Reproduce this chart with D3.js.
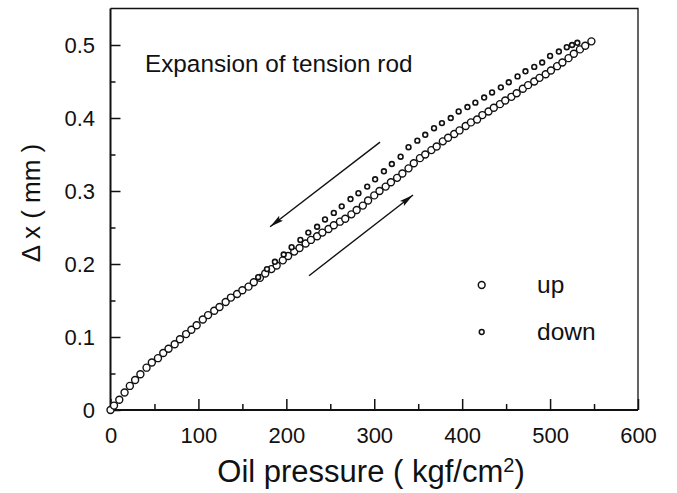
<!DOCTYPE html>
<html>
<head>
<meta charset="utf-8">
<script src="https://cdn.jsdelivr.net/npm/d3@7"></script>
<style>
  html, body { margin: 0; padding: 0; background: #fff; }
  svg { display: block; }
  text { font-family: "Liberation Sans", Arial, Helvetica, sans-serif; fill: #111; }
</style>
</head>
<body>
<svg id="chart" width="677" height="493"></svg>
<script>
// ---- data ----
const upX = [0, 4, 10, 16, 22, 28, 34, 41, 47, 54, 60, 66, 73, 79, 86, 92, 98, 105, 111, 118, 124, 131, 137, 144, 150, 157, 163, 170, 176, 183, 189, 196, 202, 209, 215, 222, 228, 235, 241, 248, 254, 261, 267, 274, 280, 287, 293, 300, 306, 313, 319, 326, 332, 339, 345, 352, 358, 365, 371, 378, 384, 391, 397, 404, 410, 417, 423, 430, 436, 443, 449, 456, 462, 469, 475, 482, 488, 495, 501, 508, 514, 521, 527, 534, 540, 547];
const upY = [0.000, 0.006, 0.014, 0.024, 0.033, 0.041, 0.049, 0.058, 0.065, 0.071, 0.078, 0.084, 0.090, 0.097, 0.104, 0.110, 0.116, 0.124, 0.130, 0.136, 0.141, 0.148, 0.154, 0.159, 0.164, 0.169, 0.175, 0.181, 0.187, 0.193, 0.198, 0.205, 0.211, 0.217, 0.222, 0.228, 0.233, 0.238, 0.243, 0.248, 0.253, 0.258, 0.262, 0.268, 0.274, 0.280, 0.287, 0.294, 0.300, 0.306, 0.312, 0.318, 0.324, 0.331, 0.338, 0.345, 0.350, 0.356, 0.361, 0.368, 0.373, 0.378, 0.383, 0.389, 0.394, 0.398, 0.404, 0.409, 0.414, 0.419, 0.424, 0.429, 0.434, 0.440, 0.445, 0.450, 0.455, 0.460, 0.465, 0.471, 0.476, 0.482, 0.488, 0.494, 0.499, 0.505];
const downX = [531, 525, 519, 510, 500, 491, 482, 472, 463, 453, 444, 434, 425, 415, 406, 396, 387, 377, 368, 358, 349, 339, 330, 320, 311, 301, 292, 282, 273, 263, 254, 244, 235, 225, 216, 206, 197, 187, 178, 168];
const downY = [0.503, 0.500, 0.497, 0.491, 0.485, 0.476, 0.470, 0.464, 0.457, 0.449, 0.442, 0.435, 0.428, 0.421, 0.415, 0.409, 0.400, 0.393, 0.386, 0.377, 0.369, 0.360, 0.347, 0.337, 0.327, 0.316, 0.306, 0.297, 0.289, 0.279, 0.270, 0.261, 0.251, 0.243, 0.233, 0.223, 0.213, 0.203, 0.193, 0.182];
const xTicks = [0, 100, 200, 300, 400, 500, 600];
const xMinor = [50, 150, 250, 350, 450, 550];
const yTicks = [0, 0.1, 0.2, 0.3, 0.4, 0.5];
const yMinor = [0.05, 0.15, 0.25, 0.35, 0.45];
const yTickLabels = ["0", "0.1", "0.2", "0.3", "0.4", "0.5"];
const seriesNames = ["up", "down"];
const annotation = "Expansion of tension rod";
const arrowDown = [[306.6, 0.367], [181.5, 0.251]];
const arrowUp = [[225.8, 0.184], [344.1, 0.2945]];

// ---- layout ----
const svg = d3.select("#chart");
const x = d3.scaleLinear().domain([0, 600]).range([110.5, 638]);
const y = d3.scaleLinear().domain([0, 0.55]).range([410, 8.5]);

svg.append("defs").append("marker")
  .attr("id", "head").attr("viewBox", "0 -4 14 8")
  .attr("refX", 14).attr("refY", 0)
  .attr("markerWidth", 14).attr("markerHeight", 8)
  .attr("markerUnits", "userSpaceOnUse")
  .attr("orient", "auto")
  .append("path").attr("d", "M0,-3.2L14,0L0,3.2L2.5,0Z").attr("fill", "#111");

// frame: top/right thinner, left/bottom heavier
const fx0 = x(0), fx1 = x(600), fy0 = y(0), fy1 = y(0.55);
svg.append("path").attr("d", `M${fx0},${fy1}H${fx1}V${fy0}`)
  .attr("fill", "none").attr("stroke", "#111").attr("stroke-width", 1.3);
svg.append("path").attr("d", `M${fx0},${fy1}V${fy0}H${fx1}`)
  .attr("fill", "none").attr("stroke", "#111").attr("stroke-width", 2);

// axes
const fs = "22px";
const gx = svg.append("g").attr("transform", `translate(0,${y(0)})`)
  .call(d3.axisBottom(x).tickValues(xTicks).tickSizeInner(-11).tickSizeOuter(0).tickPadding(17).tickFormat(d3.format("d")));
const gxm = svg.append("g").attr("transform", `translate(0,${y(0)})`)
  .call(d3.axisBottom(x).tickValues(xMinor).tickSizeInner(-6).tickSizeOuter(0).tickFormat(""));
const gy = svg.append("g").attr("transform", `translate(${x(0)},0)`)
  .call(d3.axisLeft(y).tickValues(yTicks).tickSizeInner(-10).tickSizeOuter(0).tickPadding(15.5)
    .tickFormat((d, i) => yTickLabels[i]));
const gym = svg.append("g").attr("transform", `translate(${x(0)},0)`)
  .call(d3.axisLeft(y).tickValues(yMinor).tickSizeInner(-5).tickSizeOuter(0).tickFormat(""));
[gx, gxm, gy, gym].forEach(g => {
  g.select(".domain").remove();
  g.selectAll(".tick line").attr("stroke", "#111").attr("stroke-width", 1.5);
  g.selectAll(".tick text").style("font-family", '"Liberation Sans", Arial, sans-serif')
    .style("font-size", fs).attr("fill", "#111");
});

// axis titles
const xt = svg.append("text").attr("x", 371).attr("y", 482)
  .attr("text-anchor", "middle").style("font-size", "31px");
xt.append("tspan").text("Oil pressure ( kgf/cm");
xt.append("tspan").text("2").style("font-size", "20px").attr("dy", -10);
xt.append("tspan").text(")").attr("dy", 10);

svg.append("text").attr("transform", `translate(40,203) rotate(-90)`)
  .attr("text-anchor", "middle").style("font-size", "26px").text("Δ x ( mm )");

// annotation
svg.append("text").attr("x", 145).attr("y", 72).style("font-size", "24.3px").text(annotation);

// arrows
const line = d3.line().x(d => x(d[0])).y(d => y(d[1]));
[arrowDown, arrowUp].forEach(a => {
  svg.append("path").attr("d", line(a)).attr("fill", "none")
    .attr("stroke", "#111").attr("stroke-width", 1.4).attr("marker-end", "url(#head)");
});

// data
const up = upX.map((v, i) => [v, upY[i]]);
const down = downX.map((v, i) => [v, downY[i]]);
svg.append("g").selectAll("circle").data(up).join("circle")
  .attr("cx", d => x(d[0])).attr("cy", d => y(d[1])).attr("r", 3.5)
  .attr("fill", "#fff").attr("stroke", "#111").attr("stroke-width", 1.4);
svg.append("g").selectAll("circle").data(down).join("circle")
  .attr("cx", d => x(d[0])).attr("cy", d => y(d[1])).attr("r", 2.4)
  .attr("fill", "#fff").attr("stroke", "#111").attr("stroke-width", 1.6);

// legend
const leg = svg.append("g");
const legY = [285, 332];
const legR = [3.4, 2.4];
seriesNames.forEach((n, i) => {
  leg.append("circle").attr("cx", 481.7).attr("cy", legY[i]).attr("r", legR[i])
    .attr("fill", "#fff").attr("stroke", "#111").attr("stroke-width", 1.5);
  leg.append("text").attr("x", 537).attr("y", legY[i] + 8).style("font-size", "24.5px").text(n);
});
</script>
</body>
</html>
